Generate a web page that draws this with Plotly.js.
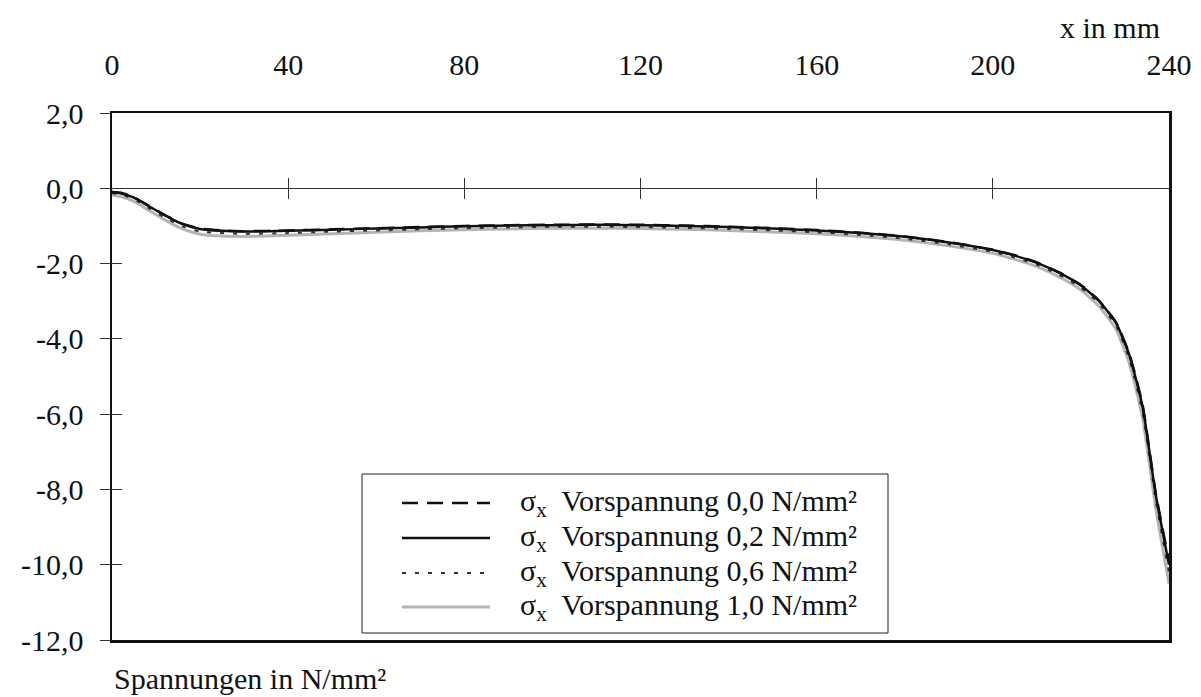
<!DOCTYPE html>
<html>
<head>
<meta charset="utf-8">
<script src="https://cdn.plot.ly/plotly-3.0.1.min.js"></script>
<style>
  html, body { margin: 0; padding: 0; background: #fff; }
  #chart { width: 1201px; height: 697px; }
</style>
</head>
<body>
<div id="chart"></div>
<script>
// ---- data ----
const xMM = [0, 2, 5, 8, 12, 16, 20, 25, 30, 40, 50, 60, 70, 80, 90, 100, 110, 120, 130, 140, 150, 160, 170, 180, 190, 200, 205, 210, 215, 220, 224, 228, 231, 234, 237, 240];
const sigma00 = [-0.10,-0.12,-0.24,-0.44,-0.71,-0.94,-1.07,-1.12,-1.14,-1.12,-1.09,-1.06,-1.03,-1.00,-0.98,-0.97,-0.96,-0.97,-0.99,-1.02,-1.06,-1.11,-1.18,-1.28,-1.43,-1.63,-1.78,-1.97,-2.23,-2.57,-2.97,-3.57,-4.40,-5.75,-8.10,-9.90];
const sigma02 = [-0.10,-0.13,-0.25,-0.45,-0.72,-0.95,-1.08,-1.13,-1.15,-1.13,-1.10,-1.07,-1.04,-1.01,-0.99,-0.98,-0.97,-0.98,-1.00,-1.03,-1.07,-1.12,-1.19,-1.29,-1.44,-1.64,-1.79,-1.98,-2.24,-2.58,-2.98,-3.58,-4.43,-5.80,-8.15,-10.0];
const sigma06 = [-0.13,-0.16,-0.29,-0.50,-0.78,-1.01,-1.15,-1.19,-1.21,-1.19,-1.15,-1.12,-1.09,-1.06,-1.04,-1.02,-1.02,-1.03,-1.05,-1.08,-1.12,-1.17,-1.24,-1.34,-1.49,-1.69,-1.84,-2.03,-2.30,-2.64,-3.05,-3.66,-4.55,-5.95,-8.30,-10.2];
const sigma10 = [-0.18,-0.22,-0.35,-0.56,-0.84,-1.08,-1.22,-1.27,-1.28,-1.25,-1.21,-1.17,-1.13,-1.10,-1.08,-1.06,-1.06,-1.07,-1.09,-1.12,-1.16,-1.21,-1.28,-1.38,-1.53,-1.73,-1.89,-2.08,-2.35,-2.70,-3.12,-3.75,-4.65,-6.10,-8.50,-10.5];

const seriesNames = ["Vorspannung 0,0 N/mm²", "Vorspannung 0,2 N/mm²", "Vorspannung 0,6 N/mm²", "Vorspannung 1,0 N/mm²"];

const xTickVals = [0, 40, 80, 120, 160, 200, 240];
const xTickText = ["0", "40", "80", "120", "160", "200", "240"];
const xInnerTicks = [40, 80, 120, 160, 200];
const yTickVals = [2, 0, -2, -4, -6, -8, -10, -12];
const yTickText = ["2,0", "0,0", "-2,0", "-4,0", "-6,0", "-8,0", "-10,0", "-12,0"];

const xTitle = "x in mm";
const yTitle = "Spannungen in N/mm²";

// ---- styles ----
const FONT = '"Liberation Serif", "DejaVu Serif", serif';
const styles = [
  {color: "#111", width: 2.5, dash: "16px,9px"},
  {color: "#111", width: 2.5, dash: "solid"},
  {color: "#333", width: 2.0, dash: "4px,9px"},
  {color: "#b4b4b4", width: 3.0, dash: "solid"}
];
const seriesData = [sigma00, sigma02, sigma06, sigma10];

// draw order: grey first, dashed last
const order = [3, 2, 1, 0];
const traces = order.map(i => ({
  type: "scatter", mode: "lines",
  x: xMM, y: seriesData[i],
  name: seriesNames[i],
  line: {color: styles[i].color, width: styles[i].width, dash: styles[i].dash, shape: "spline", smoothing: 0.5},
  showlegend: false, hoverinfo: "skip"
}));
// empty helper traces so the overlay tick axes are drawn
traces.push({type: "scatter", mode: "lines", x: [], y: [], xaxis: "x2", yaxis: "y", showlegend: false, hoverinfo: "skip"});
traces.push({type: "scatter", mode: "lines", x: [], y: [], xaxis: "x3", yaxis: "y", showlegend: false, hoverinfo: "skip"});
traces.push({type: "scatter", mode: "lines", x: [], y: [], xaxis: "x", yaxis: "y2", showlegend: false, hoverinfo: "skip"});

// ---- layout geometry ----
const W = 1201, H = 697;
const mL = 112, mR = 32, mT = 113, mB = 57;
const plotW = W - mL - mR, plotH = H - mT - mB;
const px2x = px => (px - mL) / plotW;
const py2y = py => (H - mB - py) / plotH;
const yMin = -12, yMax = 2;
const zeroPos = (0 - yMin) / (yMax - yMin);

// custom legend (box, line samples, labels)
const legBox = {x0: 362, x1: 888, y0: 474, y1: 633};
const legRows = [503, 538, 573, 607];
const shapes = [{
  type: "rect", xref: "paper", yref: "paper",
  x0: px2x(legBox.x0), x1: px2x(legBox.x1), y0: py2y(legBox.y1), y1: py2y(legBox.y0),
  line: {color: "#222", width: 1}, fillcolor: "#fff", layer: "above"
}];
const annotations = [];
for (let i = 0; i < 4; i++) {
  shapes.push({
    type: "line", xref: "paper", yref: "paper",
    x0: px2x(402), x1: px2x(490), y0: py2y(legRows[i]), y1: py2y(legRows[i]),
    line: {color: styles[i].color, width: styles[i].width, dash: styles[i].dash}, layer: "above"
  });
  annotations.push({
    xref: "paper", yref: "paper", x: px2x(518), y: py2y(legRows[i]),
    xanchor: "left", yanchor: "middle", showarrow: false,
    text: "σ<sub>x</sub>  " + seriesNames[i],
    font: {family: FONT, size: 30, color: "#111"}
  });
}
annotations.push({
  xref: "paper", yref: "paper", x: px2x(1162), y: py2y(28),
  xanchor: "right", yanchor: "middle", showarrow: false,
  text: xTitle, font: {family: FONT, size: 30, color: "#111"}
});
annotations.push({
  xref: "paper", yref: "paper", x: px2x(112), y: py2y(678),
  xanchor: "left", yanchor: "middle", showarrow: false,
  text: yTitle, font: {family: FONT, size: 30, color: "#111"}
});

const layout = {
  width: W, height: H,
  margin: {l: mL, r: mR, t: mT, b: mB, pad: 0},
  paper_bgcolor: "#fff", plot_bgcolor: "#fff",
  font: {family: FONT, size: 30, color: "#111"},
  showlegend: false,
  xaxis: {
    range: [0, 240], side: "top",
    tickmode: "array", tickvals: xTickVals, ticktext: xTickText,
    ticks: "", ticklabelstandoff: 24,
    showgrid: false, zeroline: false,
    showline: true, mirror: true, linecolor: "#111", linewidth: 2.5,
    tickfont: {family: FONT, size: 30, color: "#111"}
  },
  xaxis2: {
    overlaying: "x", anchor: "free", position: zeroPos, side: "bottom",
    range: [0, 240], tickmode: "array", tickvals: xInnerTicks,
    ticks: "outside", ticklen: 10, tickwidth: 1, tickcolor: "#333",
    showticklabels: false, showgrid: false, zeroline: false, showline: false
  },
  xaxis3: {
    overlaying: "x", anchor: "free", position: zeroPos, side: "top",
    range: [0, 240], tickmode: "array", tickvals: xInnerTicks,
    ticks: "outside", ticklen: 10, tickwidth: 1, tickcolor: "#333",
    showticklabels: false, showgrid: false, zeroline: false, showline: false
  },
  yaxis: {
    range: [yMin, yMax],
    tickmode: "array", tickvals: yTickVals, ticktext: yTickText,
    ticks: "outside", ticklen: 10, tickwidth: 1, tickcolor: "#333",
    ticklabelstandoff: 10,
    showgrid: false,
    zeroline: true, zerolinecolor: "#333", zerolinewidth: 1,
    showline: true, mirror: true, linecolor: "#111", linewidth: 2.5,
    tickfont: {family: FONT, size: 30, color: "#111"}
  },
  yaxis2: {
    overlaying: "y", anchor: "x", side: "left",
    range: [yMin, yMax], tickmode: "array", tickvals: yTickVals.filter(v => v < 2 && v > -12),
    ticks: "inside", ticklen: 10, tickwidth: 1, tickcolor: "#333",
    showticklabels: false, showgrid: false, zeroline: false, showline: false
  },
  shapes: shapes,
  annotations: annotations
};

Plotly.newPlot("chart", traces, layout, {staticPlot: true, displayModeBar: false});
</script>
</body>
</html>
